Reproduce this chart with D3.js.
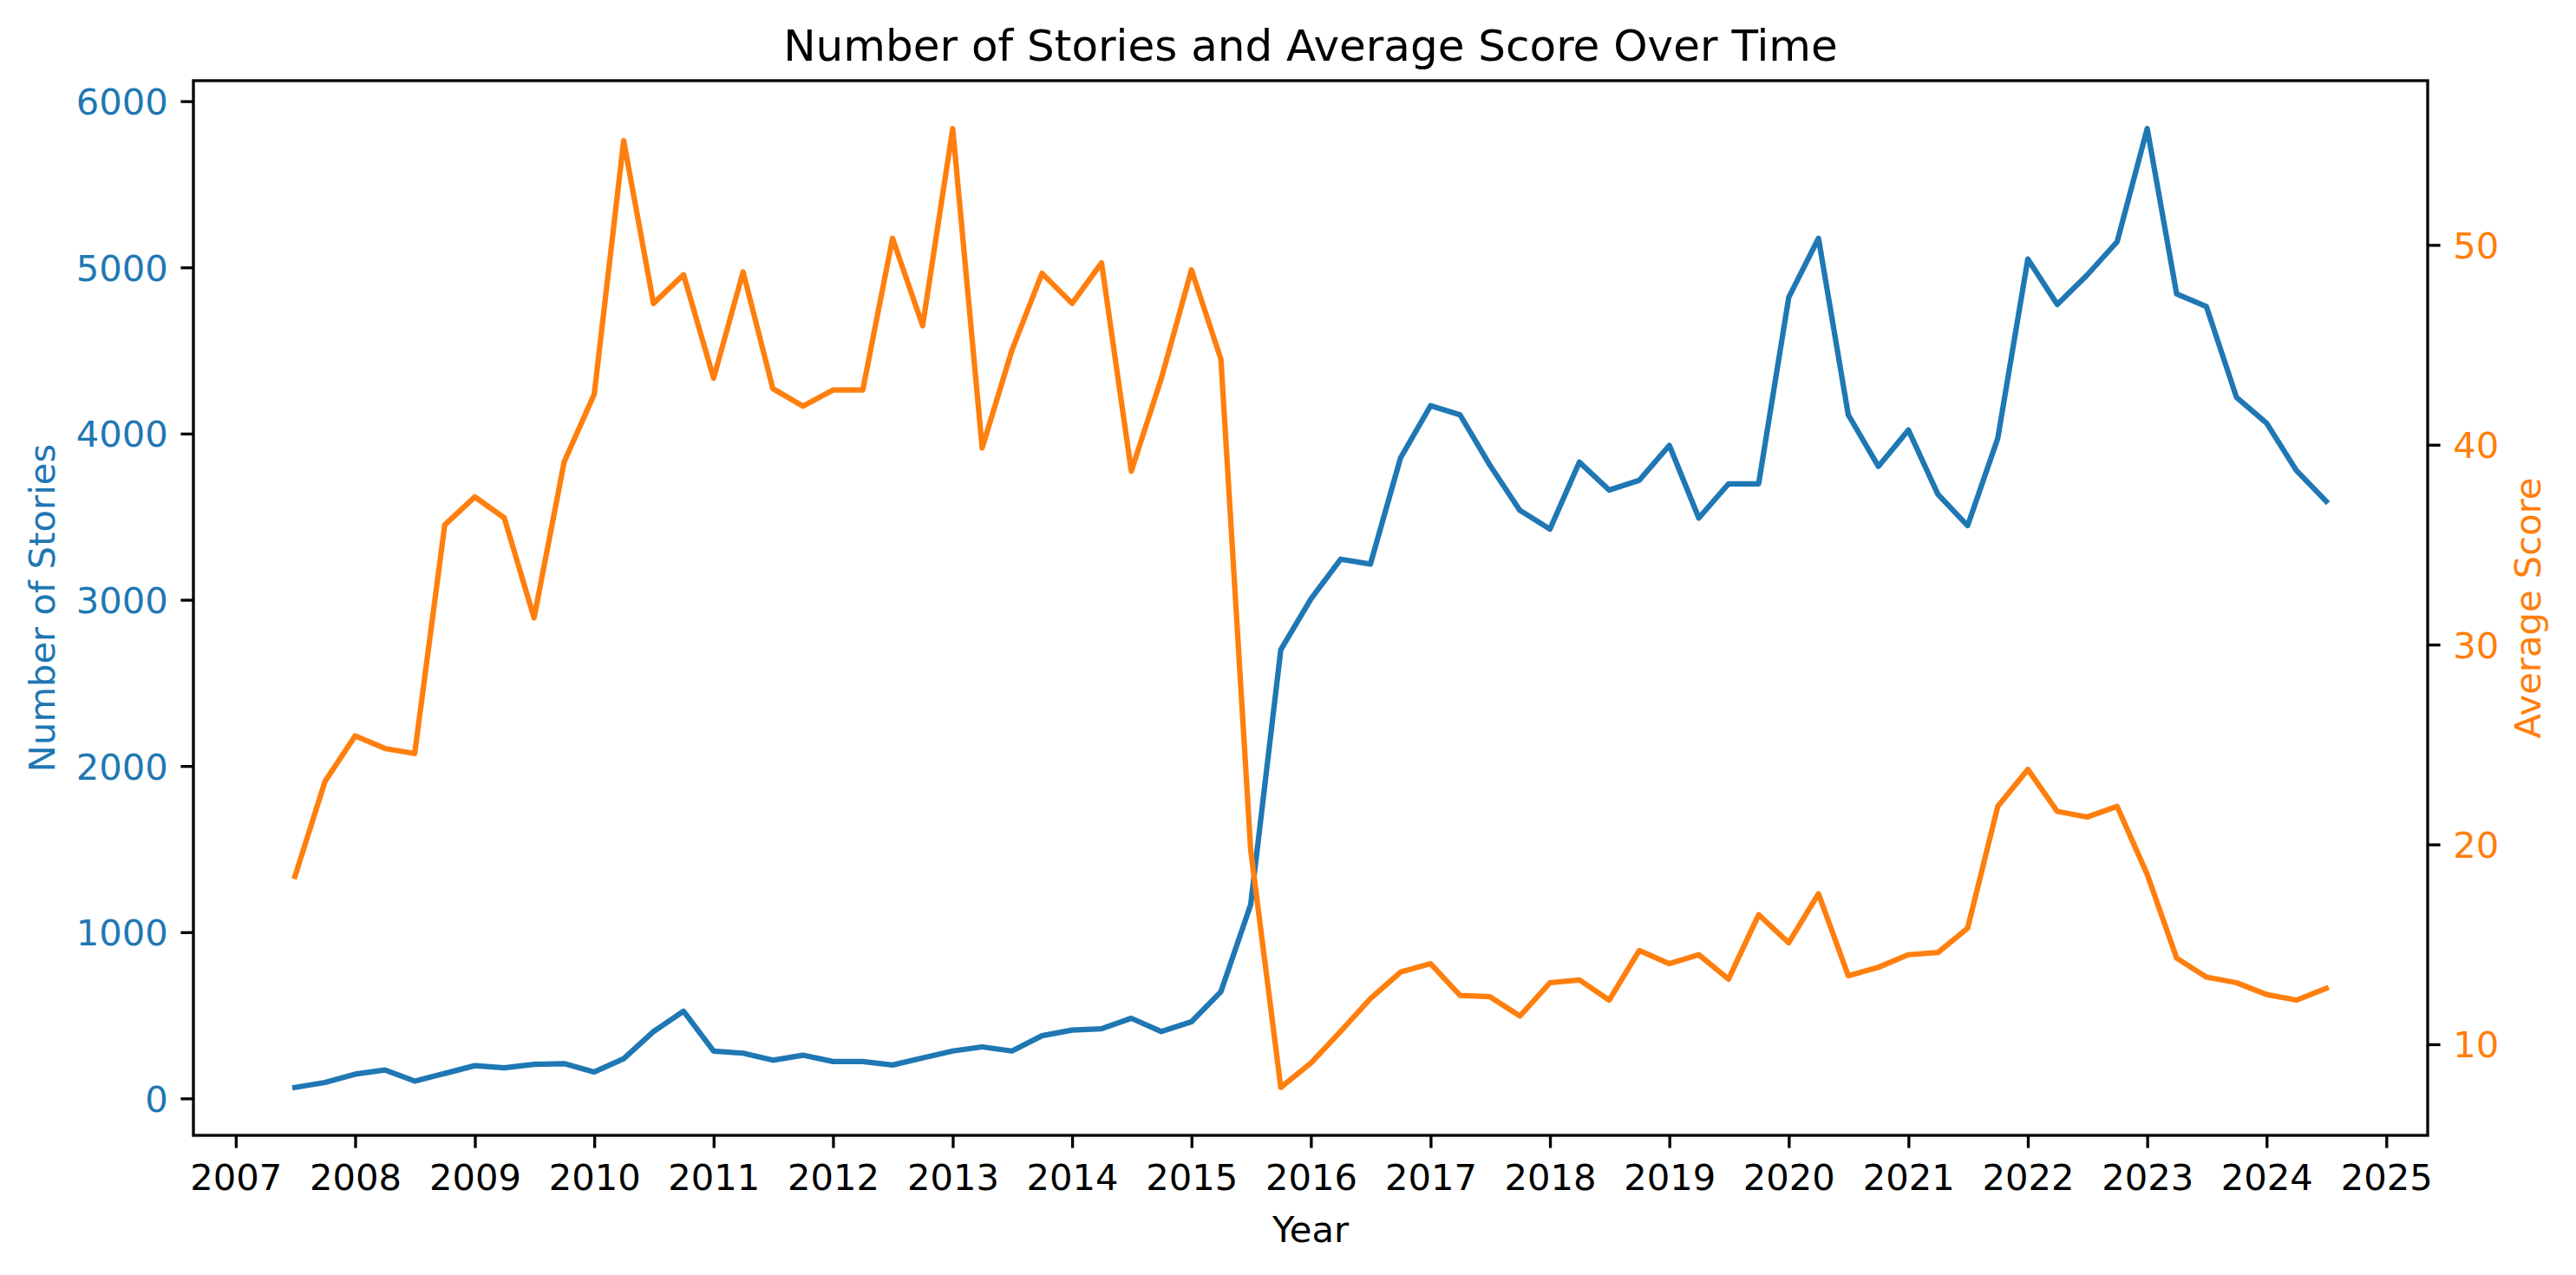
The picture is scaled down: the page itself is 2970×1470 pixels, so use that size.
<!DOCTYPE html>
<html>
<head>
<meta charset="utf-8">
<script src="https://cdn.jsdelivr.net/npm/d3@7"></script>
<style>
  html, body { margin: 0; padding: 0; background: #ffffff; }
  svg { display: block; }
  text { font-family: "DejaVu Sans", sans-serif; }
</style>
</head>
<body>
<svg id="chart" width="2970" height="1470"></svg>
<script>
// ---------------- data ----------------
const quarterDates = [
  "2007-07-01","2007-10-01",
  "2008-01-01","2008-04-01","2008-07-01","2008-10-01",
  "2009-01-01","2009-04-01","2009-07-01","2009-10-01",
  "2010-01-01","2010-04-01","2010-07-01","2010-10-01",
  "2011-01-01","2011-04-01","2011-07-01","2011-10-01",
  "2012-01-01","2012-04-01","2012-07-01","2012-10-01",
  "2013-01-01","2013-04-01","2013-07-01","2013-10-01",
  "2014-01-01","2014-04-01","2014-07-01","2014-10-01",
  "2015-01-01","2015-04-01","2015-07-01","2015-10-01",
  "2016-01-01","2016-04-01","2016-07-01","2016-10-01",
  "2017-01-01","2017-04-01","2017-07-01","2017-10-01",
  "2018-01-01","2018-04-01","2018-07-01","2018-10-01",
  "2019-01-01","2019-04-01","2019-07-01","2019-10-01",
  "2020-01-01","2020-04-01","2020-07-01","2020-10-01",
  "2021-01-01","2021-04-01","2021-07-01","2021-10-01",
  "2022-01-01","2022-04-01","2022-07-01","2022-10-01",
  "2023-01-01","2023-04-01","2023-07-01","2023-10-01",
  "2024-01-01","2024-04-01","2024-07-01"
];

const storyCounts = [
  66, 96,
  146, 171, 104, 150,
  197, 184, 205, 209,
  159, 239, 402, 524,
  285, 272, 230, 260,
  222, 222, 201, 243,
  285, 310, 285, 377,
  411, 419, 482, 402,
  461, 642, 1166, 2699,
  3005, 3244, 3215, 3853,
  4168, 4113, 3811, 3538,
  3425, 3828, 3660, 3719,
  3929, 3492, 3698, 3698,
  4819, 5175, 4113, 3803,
  4021, 3635, 3446, 3971,
  5050, 4777, 4953, 5154,
  5835, 4840, 4764, 4218,
  4063, 3778, 3593
];

const avgScores = [
  18.40, 23.16,
  25.43, 24.80, 24.55, 35.99,
  37.39, 36.34, 31.34, 39.14,
  42.53, 55.22, 47.07, 48.51,
  43.33, 48.65, 42.81, 41.93,
  42.74, 42.74, 50.33, 45.96,
  55.82, 39.84, 44.73, 48.58,
  47.07, 49.10, 38.68, 43.33,
  48.75, 44.28, 19.73, 7.84,
  9.06, 10.64, 12.28, 13.61,
  14.03, 12.45, 12.38, 11.41,
  13.08, 13.22, 12.21, 14.69,
  14.03, 14.48, 13.26, 16.48,
  15.08, 17.53, 13.43, 13.85,
  14.48, 14.59, 15.81, 21.90,
  23.75, 21.65, 21.37, 21.90,
  18.50, 14.31, 13.36, 13.08,
  12.49, 12.21, 12.80
];

const xTickYears = [2007,2008,2009,2010,2011,2012,2013,2014,2015,2016,2017,2018,2019,2020,2021,2022,2023,2024,2025];
const leftTicks = [0, 1000, 2000, 3000, 4000, 5000, 6000];
const rightTicks = [10, 20, 30, 40, 50];

const titleText = "Number of Stories and Average Score Over Time";
const xLabelText = "Year";
const leftLabelText = "Number of Stories";
const rightLabelText = "Average Score";

// ---------------- layout ----------------
const C_BLUE = "#1f77b4";
const C_ORANGE = "#ff7f0e";
const FS = 41.67;      // 10pt @300dpi
const FS_TITLE = 50;   // 12pt @300dpi
const LW = 6.25;       // 1.5pt
const SPINE = 3.33;    // 0.8pt
const TICK = 14.6;     // 3.5pt
const PAD = 14.6;

const plot = { left: 223, right: 2799, top: 93, bottom: 1309 };

const parse = d3.timeParse("%Y-%m-%d");
const dates = quarterDates.map(parse);
const rows = dates.map((d, i) => ({ date: d, count: storyCounts[i], score: avgScores[i] }));

function padded(lo, hi) {
  const m = (hi - lo) * 0.05;
  return [lo - m, hi + m];
}

const t0 = d3.min(dates).getTime(), t1 = d3.max(dates).getTime();
const tPad = (t1 - t0) * 0.05;
const x = d3.scaleTime()
  .domain([new Date(t0 - tPad), new Date(t1 + tPad)])
  .range([plot.left, plot.right]);

const yL = d3.scaleLinear()
  .domain(padded(d3.min(storyCounts), d3.max(storyCounts)))
  .range([plot.bottom, plot.top]);

const yR = d3.scaleLinear()
  .domain(padded(d3.min(avgScores), d3.max(avgScores)))
  .range([plot.bottom, plot.top]);

const svg = d3.select("#chart");

// lines
const lineL = d3.line().x(d => x(d.date)).y(d => yL(d.count));
const lineR = d3.line().x(d => x(d.date)).y(d => yR(d.score));

svg.append("path")
  .datum(rows)
  .attr("d", lineL)
  .attr("fill", "none")
  .attr("stroke", C_BLUE)
  .attr("stroke-width", LW)
  .attr("stroke-linejoin", "round")
  .attr("stroke-linecap", "square");

svg.append("path")
  .datum(rows)
  .attr("d", lineR)
  .attr("fill", "none")
  .attr("stroke", C_ORANGE)
  .attr("stroke-width", LW)
  .attr("stroke-linejoin", "round")
  .attr("stroke-linecap", "square");

// axes
const xAxis = d3.axisBottom(x)
  .tickValues(xTickYears.map(y => new Date(y, 0, 1)))
  .tickFormat(d3.timeFormat("%Y"))
  .tickSize(TICK).tickSizeOuter(0).tickPadding(PAD);

const gx = svg.append("g")
  .attr("transform", `translate(0,${plot.bottom})`)
  .call(xAxis);
gx.select(".domain").remove();
gx.selectAll(".tick line").attr("stroke", "#000").attr("stroke-width", SPINE);
gx.selectAll(".tick text")
  .attr("dy", null)
  .attr("y", 63)
  .attr("fill", "#000")
  .style("font-size", FS + "px")
  .style("font-family", "DejaVu Sans");

const leftAxis = d3.axisLeft(yL)
  .tickValues(leftTicks)
  .tickFormat(d3.format("d"))
  .tickSize(TICK).tickSizeOuter(0).tickPadding(PAD);
const gl = svg.append("g")
  .attr("transform", `translate(${plot.left},0)`)
  .call(leftAxis);
gl.select(".domain").remove();
gl.selectAll(".tick line").attr("stroke", "#000").attr("stroke-width", SPINE);
gl.selectAll(".tick text")
  .attr("dy", "0.36em")
  .attr("fill", C_BLUE)
  .style("font-size", FS + "px")
  .style("font-family", "DejaVu Sans");

const rightAxis = d3.axisRight(yR)
  .tickValues(rightTicks)
  .tickFormat(d3.format("d"))
  .tickSize(TICK).tickSizeOuter(0).tickPadding(PAD);
const gr = svg.append("g")
  .attr("transform", `translate(${plot.right},0)`)
  .call(rightAxis);
gr.select(".domain").remove();
gr.selectAll(".tick line").attr("stroke", "#000").attr("stroke-width", SPINE);
gr.selectAll(".tick text")
  .attr("dy", "0.36em")
  .attr("fill", C_ORANGE)
  .style("font-size", FS + "px")
  .style("font-family", "DejaVu Sans");

// spines
svg.append("rect")
  .attr("x", plot.left).attr("y", plot.top)
  .attr("width", plot.right - plot.left)
  .attr("height", plot.bottom - plot.top)
  .attr("fill", "none")
  .attr("stroke", "#000")
  .attr("stroke-width", SPINE)
  .attr("stroke-linejoin", "miter");

// title
const cx = (plot.left + plot.right) / 2;
svg.append("text")
  .attr("x", cx).attr("y", 70)
  .attr("text-anchor", "middle")
  .style("font-size", FS_TITLE + "px")
  .attr("fill", "#000")
  .text(titleText);

// x label
svg.append("text")
  .attr("x", cx).attr("y", 1432)
  .attr("text-anchor", "middle")
  .style("font-size", FS + "px")
  .attr("fill", "#000")
  .text(xLabelText);

// left y label
const cy = (plot.top + plot.bottom) / 2;
svg.append("text")
  .attr("transform", `translate(63,${cy}) rotate(-90)`)
  .attr("text-anchor", "middle")
  .style("font-size", FS + "px")
  .attr("fill", C_BLUE)
  .text(leftLabelText);

// right y label
svg.append("text")
  .attr("transform", `translate(2929,${cy}) rotate(-90)`)
  .attr("text-anchor", "middle")
  .style("font-size", FS + "px")
  .attr("fill", C_ORANGE)
  .text(rightLabelText);
</script>
</body>
</html>
